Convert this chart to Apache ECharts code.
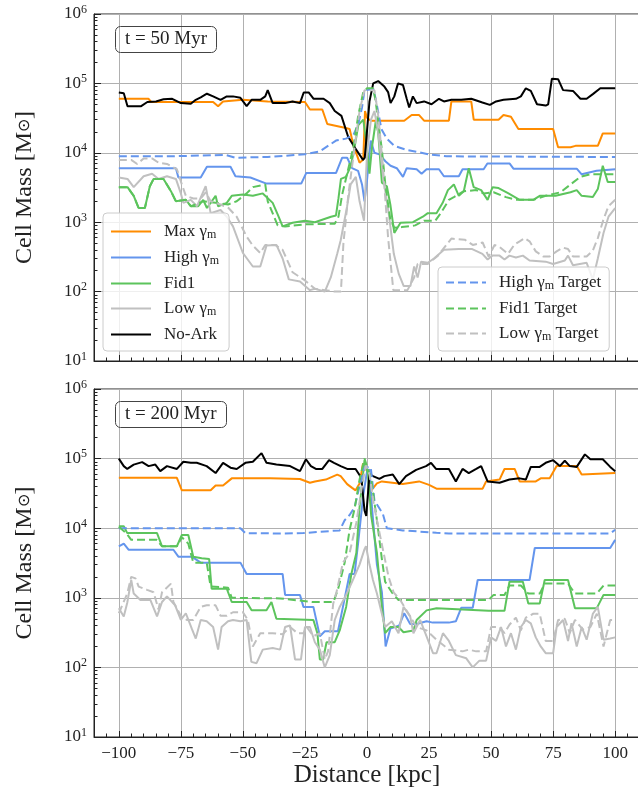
<!DOCTYPE html>
<html>
<head>
<meta charset="utf-8">
<script src="https://cdn.jsdelivr.net/npm/echarts@6/dist/echarts.min.js"></script>
<style>
  html, body { margin: 0; padding: 0; background: #fff; }
  #chart { width: 638px; height: 794px; }
</style>
</head>
<body>
<div id="chart"></div>
<script>
// x in kpc, y = cell mass in Msun
// --- t = 50 Myr ---
const maxTop = [[-100,6.0e4],[-88,6.0e4],[-87,5.4e4],[-62,5.4e4],[-60,4.7e4],[-58,5.5e4],[-50,5.8e4],[-40,5.5e4],[-25,5.4e4],[-23,4.2e4],[-18,4.2e4],[-16,2.6e4],[-9,2.3e4],[-7,2.2e4],[-5.5,1.3e4],[-3,7.2e3],[-1.5,8.0e3],[-0.8,4.0e4],[0,3.2e4],[1.5,2.9e4],[15,2.9e4],[18,3.5e4],[21,3.5e4],[23,2.9e4],[33,2.9e4],[34,5.5e4],[42,5.5e4],[43,3.0e4],[53,3.0e4],[55,3.5e4],[58,3.3e4],[61,2.2e4],[75,2.2e4],[77,1.2e4],[82,1.2e4],[84,1.26e4],[93,1.26e4],[95,1.9e4],[100,1.9e4]];
const highTop = [[-100,6.0e3],[-77,6.0e3],[-76,4.4e3],[-67,4.4e3],[-64.5,6.3e3],[-55,6.3e3],[-53,4.6e3],[-47,4.4e3],[-40.5,3.6e3],[-26.5,3.6e3],[-24.5,5.1e3],[-12.5,5.1e3],[-10,8.5e3],[-8,8.5e3],[-6,6.0e3],[-3.6,5.5e3],[-2,3.5e3],[-1,2.0e3],[0,4.0e3],[1.5,1.5e4],[3,1.0e4],[5,9.5e3],[7.5,7.5e3],[9.5,6.5e3],[12,6.0e3],[14.5,4.5e3],[16,6.0e3],[20,5.8e3],[22,5.0e3],[24,5.8e3],[29,5.8e3],[31,4.6e3],[37,4.6e3],[38.5,5.8e3],[47,5.8e3],[48.5,7.0e3],[57.5,7.0e3],[59,5.9e3],[84.5,5.9e3],[86.5,4.9e3],[92.5,5.5e3],[100,5.8e3]];
const fidTop = [[-100,3.2e3],[-96.5,3.2e3],[-94,2.4e3],[-92,1.6e3],[-89.5,1.6e3],[-87.5,3.3e3],[-86,4.2e3],[-82,4.2e3],[-79,2.8e3],[-77,2.0e3],[-73,2.1e3],[-71,1.7e3],[-68,1.7e3],[-66,2.1e3],[-64.5,1.6e3],[-61,2.4e3],[-60,1.7e3],[-56.5,1.9e3],[-54.5,2.4e3],[-50,2.5e3],[-46,2.4e3],[-42,2.6e3],[-38,1.9e3],[-36,1.3e3],[-34,8.7e2],[-30,9.8e2],[-25,1.05e3],[-21,1.0e3],[-14.5,1.2e3],[-12.5,1.25e3],[-11.5,2.2e3],[-10.5,4.2e3],[-8.5,4.5e3],[-6.5,6.5e3],[-5,1.2e4],[-3.5,2.5e4],[-1.5,3.0e4],[0,1.2e4],[1,5.0e3],[2,1.2e4],[3.5,2.8e4],[4.5,2.0e4],[6,3.7e3],[8,3.3e3],[9.4,1.8e3],[11,7.0e2],[13.5,9.8e2],[18.5,1.0e3],[22.5,1.2e3],[24.5,1.35e3],[28,1.35e3],[30.5,1.9e3],[32.6,2.9e3],[35,3.5e3],[37,2.4e3],[39,2.8e3],[41,6.0e3],[43,3.2e3],[46,2.9e3],[48.6,2.1e3],[50.6,3.2e3],[53,3.1e3],[57,2.6e3],[61.5,2.1e3],[67,2.1e3],[69.6,2.4e3],[76,2.4e3],[82,2.7e3],[84.5,2.9e3],[86.5,2.4e3],[91,2.3e3],[93,3.0e3],[95,6.5e3],[97,3.8e3],[100,3.8e3]];
const lowTop = [[-100,4.4e3],[-96.5,4.2e3],[-94,3.2e3],[-90,4.6e3],[-86.6,5.0e3],[-84,4.2e3],[-80.6,4.6e3],[-77,4.2e3],[-75,2.6e3],[-74,1.9e3],[-71,2.1e3],[-68.5,1.7e3],[-65,3.3e3],[-63,1.35e3],[-59,1.5e3],[-56.5,1.2e3],[-54,8.7e2],[-50,3.6e2],[-46,2.3e2],[-43,2.3e2],[-40.5,4.6e2],[-36.5,4.7e2],[-34,3.0e2],[-31.5,1.5e2],[-27,1.4e2],[-23,1.05e2],[-21,1.1e2],[-17,1.0e2],[-14.6,1.6e2],[-12,3.5e2],[-10.6,5.5e2],[-8,1.7e3],[-6.6,3.5e3],[-4.5,4.5e3],[-3,2.0e3],[-1.2,1.05e3],[0,1.0e4],[1.6,3.0e4],[3,4.0e4],[4.5,2.0e4],[6.5,4.5e3],[8.8,1.3e3],[10.8,3.5e2],[12.8,1.8e2],[14.8,1.2e2],[17.5,1.2e2],[19,2.3e2],[20.4,1.6e2],[21.8,2.7e2],[24.5,2.6e2],[27,3.0e2],[31,4.0e2],[37,4.1e2],[42.4,4.1e2],[46.5,3.5e2],[48.6,2.9e2],[50.5,3.3e2],[53.4,3.3e2],[55.4,2.9e2],[57.4,3.3e2],[60,3.1e2],[62.8,3.3e2],[65.5,2.8e2],[72,2.7e2],[75,2.5e2],[79.7,2.8e2],[81,3.3e2],[83,2.4e2],[88.5,2.6e2],[91,1.5e2],[93,3.0e2],[95.3,7.0e2],[97.3,1.2e3],[100,1.6e3]];
const noArkTop = [[-100,7.4e4],[-98,7.2e4],[-96.5,4.7e4],[-91,4.7e4],[-88.5,5.4e4],[-85,5.5e4],[-82,5.9e4],[-78.5,6.0e4],[-75,5.2e4],[-71,5.1e4],[-69,5.8e4],[-67,6.3e4],[-64.5,7.1e4],[-62,6.5e4],[-59,5.8e4],[-56.5,6.5e4],[-54,6.5e4],[-51,6.2e4],[-48.5,4.7e4],[-46.5,5.8e4],[-43,5.8e4],[-41,6.5e4],[-40,8.0e4],[-38,5.2e4],[-33,5.2e4],[-30,5.5e4],[-27,5.2e4],[-25.5,7.4e4],[-23.5,7.4e4],[-21.5,6.0e4],[-17.5,6.0e4],[-15,5.2e4],[-13,4.0e4],[-10.3,3.4e4],[-7.6,1.7e4],[-5,1.2e4],[-1.6,7.9e3],[-0.9,8.5e3],[1,5.5e4],[2.5,1.0e5],[4.5,1.08e5],[7,9.0e4],[8.5,7.5e4],[9.5,5.2e4],[11,6.5e4],[12.5,1.0e5],[14.5,9.5e4],[16,6.0e4],[17,4.5e4],[18.5,6.5e4],[20,5.2e4],[23,5.5e4],[26,5.0e4],[29,6.0e4],[31,5.5e4],[34,5.8e4],[38,5.8e4],[42,6.0e4],[46.5,5.3e4],[49.5,4.9e4],[52,5.5e4],[55,5.8e4],[60,6.0e4],[62,6.5e4],[64,8.5e4],[66,7.8e4],[68.5,5.0e4],[72,4.8e4],[73,5.0e4],[74.5,1.17e5],[77,1.15e5],[79,8.0e4],[83,7.8e4],[86,6.0e4],[88.5,6.0e4],[91,7.0e4],[94,8.5e4],[100,8.5e4]];
const highTgtTop = [[-100,8.9e3],[-80,8.9e3],[-57,9.3e3],[-53,8.5e3],[-40,8.7e3],[-25,9.5e3],[-19,1.05e4],[-12.5,1.5e4],[-8.5,1.6e4],[-5.5,1.8e4],[-3.5,2.6e4],[-2,4.5e4],[-1,8.0e4],[2.5,8.3e4],[3.5,6.0e4],[5.8,2.2e4],[8,1.6e4],[11,1.26e4],[16,1.1e4],[25,9.5e3],[32,8.9e3],[100,8.7e3]];
const fidTgtTop = [[-100,3.2e3],[-96.5,3.2e3],[-94,2.4e3],[-92,1.6e3],[-89.5,1.6e3],[-87.5,3.3e3],[-86,4.2e3],[-82,4.2e3],[-79,2.8e3],[-77,2.0e3],[-73,2.1e3],[-71,1.7e3],[-66,2.0e3],[-61,1.9e3],[-56,1.8e3],[-52.5,2.0e3],[-48.5,2.6e3],[-46,3.2e3],[-42.5,3.4e3],[-41,3.5e3],[-40,2.0e3],[-36,9.0e2],[-33,8.7e2],[-25,9.3e2],[-13,9.5e2],[-11.5,1.2e3],[-10,2.5e3],[-8,5.0e3],[-5.5,1.2e4],[-3.5,3.5e4],[-1.5,7.5e4],[0,8.5e4],[2.5,8.5e4],[3.5,5.5e4],[6,1.1e4],[7.5,3.2e3],[9.4,1.1e3],[11,8.3e2],[14,8.5e2],[19.4,9.0e2],[23,1.05e3],[27.5,1.05e3],[30,1.4e3],[33,2.1e3],[35,2.3e3],[39,2.8e3],[44,2.9e3],[47,2.6e3],[51,2.7e3],[56,2.3e3],[60,2.1e3],[67,2.1e3],[72,2.4e3],[78,2.7e3],[82,3.5e3],[86,4.5e3],[90,4.9e3],[100,4.9e3]];
const lowTgtTop = [[-100,7.9e3],[-95,7.9e3],[-92.6,6.9e3],[-90,8.3e3],[-86.6,8.3e3],[-84,7.2e3],[-80.6,6.9e3],[-76.6,5.8e3],[-74.6,3.5e3],[-73,2.4e3],[-70,2.2e3],[-67,2.2e3],[-65,2.7e3],[-63,2.0e3],[-59,1.8e3],[-55.8,1.6e3],[-52.5,1.2e3],[-48.5,6.2e2],[-46,4.6e2],[-43,3.6e2],[-41,4.7e2],[-37,4.7e2],[-34,4.0e2],[-30,1.9e2],[-25,1.45e2],[-21,1.1e2],[-17,1.05e2],[-13,1.0e2],[-10.5,1.0e2],[-9.5,5.0e2],[-7.5,2.5e3],[-5,1.2e4],[-3,4.0e4],[-1,8.0e4],[3,8.0e4],[4.5,3.5e4],[6.5,6.0e3],[8.5,6.0e2],[10.6,1.05e2],[16.3,1.05e2],[19,1.6e2],[20.4,2.5e2],[24.5,2.5e2],[28.6,3.3e2],[34,5.8e2],[39.4,5.6e2],[42.6,4.7e2],[46.6,5.1e2],[49,3.2e2],[51.4,4.7e2],[53.4,4.4e2],[56.8,3.5e2],[59.5,4.8e2],[61.5,5.3e2],[63.5,5.9e2],[65.5,5.3e2],[68,3.8e2],[71,3.2e2],[73.6,3.2e2],[76.4,3.8e2],[79,4.3e2],[81,4.1e2],[83,3.2e2],[88.5,3.2e2],[91,3.9e2],[93,5.9e2],[95.3,1.1e3],[97.3,1.7e3],[100,2.1e3]];

// --- t = 200 Myr ---
const maxBot = [[-100,5.3e4],[-76.6,5.3e4],[-74.6,3.5e4],[-63,3.5e4],[-61,4.1e4],[-58,4.1e4],[-54.5,5.2e4],[-39,5.2e4],[-27,5.1e4],[-23,4.5e4],[-21,4.7e4],[-16.6,5.0e4],[-12,5.9e4],[-10.6,5.6e4],[-8,4.3e4],[-6,3.8e4],[-4.6,3.5e4],[-3,4.4e4],[-1.6,8.5e4],[-1,9.0e4],[0.4,6.2e4],[1.7,3.5e4],[4,4.4e4],[6,4.7e4],[14.4,4.3e4],[21,4.7e4],[25,4.2e4],[28,3.7e4],[46.6,3.7e4],[48,4.7e4],[53.4,5.0e4],[55.4,7.1e4],[59.5,7.1e4],[61.5,4.7e4],[68,4.7e4],[70,5.2e4],[73.6,5.2e4],[76.4,7.8e4],[84.5,7.8e4],[86.5,5.9e4],[100,6.2e4]];
const highBot = [[-100,5.5e3],[-98,6.0e3],[-96,4.9e3],[-78,4.9e3],[-76,3.9e3],[-70.6,3.9e3],[-67,3.2e3],[-51,3.2e3],[-48.5,2.2e3],[-34,2.2e3],[-33,1.1e3],[-27,1.1e3],[-25.6,7.4e2],[-21.6,7.4e2],[-19,2.8e2],[-17,3.3e2],[-11.7,3.3e2],[-9.7,7.4e2],[-7,2.2e3],[-5,2.2e3],[-3.6,6.0e3],[-1.5,3.0e4],[0,6.5e4],[1,7.0e4],[2,2.0e4],[4,3.0e3],[6,1.2e3],[7.5,2.0e2],[9.4,3.6e2],[13,4.0e2],[15,6.0e2],[17.4,4.2e2],[20,4.2e2],[24,4.6e2],[26.5,4.4e2],[33,4.4e2],[35.8,4.6e2],[38,7.2e2],[42.6,7.2e2],[44.6,1.8e3],[65.5,1.8e3],[67.6,5.2e3],[98,5.2e3],[100,6.8e3]];
const fidBot = [[-100,1.07e4],[-98,1.07e4],[-96.6,8.5e3],[-84.6,8.5e3],[-82.6,5.5e3],[-76.6,5.5e3],[-74.6,8.0e3],[-72,8.0e3],[-70,3.9e3],[-66.6,3.7e3],[-63.6,3.6e3],[-62.6,1.35e3],[-56.5,1.35e3],[-54.5,8.7e2],[-48.5,8.7e2],[-46.5,6.6e2],[-40.5,6.6e2],[-38.5,8.7e2],[-36.5,5.0e2],[-21.6,4.8e2],[-20,3.1e2],[-19,1.3e2],[-17.7,1.3e2],[-16.3,2.3e2],[-13,2.3e2],[-11,3.4e2],[-8.4,7.4e2],[-6.3,2.2e3],[-4.3,4.4e3],[-3,2.0e4],[-1,9.5e4],[0.4,6.0e4],[1.7,1.5e4],[4,4.4e3],[6,7.4e2],[7.3,3.1e2],[9.4,3.8e2],[12.7,3.8e2],[14.7,3.2e2],[18.7,3.4e2],[20,4.8e2],[24,6.6e2],[28,7.1e2],[49,6.5e2],[55.4,6.5e2],[57.4,1.7e3],[62.8,1.7e3],[65,8.3e2],[69.6,8.3e2],[71.6,1.8e3],[81,1.8e3],[83.8,7.1e2],[92.6,7.1e2],[95.3,1.1e3],[100,1.1e3]];
const lowBot = [[-100,7.1e2],[-98,5.4e2],[-96.6,8.5e2],[-95,1.8e3],[-94,1.15e3],[-91.3,9.3e2],[-87.3,9.3e2],[-84.6,5.4e2],[-82.6,8.7e2],[-80.6,1.05e3],[-77.3,7.8e2],[-75,4.8e2],[-73,6.0e2],[-70.6,3.6e2],[-69,2.6e2],[-67,4.8e2],[-64.6,4.6e2],[-62,3.8e2],[-60,1.8e2],[-58.6,3.8e2],[-56,4.6e2],[-54,4.8e2],[-51,4.6e2],[-48.5,4.8e2],[-46.6,1.2e2],[-44.5,1.15e2],[-42,1.8e2],[-38,1.9e2],[-35,1.8e2],[-33,3.8e2],[-31,4.0e2],[-29,1.3e2],[-26.6,1.3e2],[-25,3.8e2],[-23,3.8e2],[-21,2.3e2],[-19,1.8e2],[-17,1.0e2],[-15,1.5e2],[-13,4.8e2],[-11,7.4e2],[-8.4,1.1e3],[-5.7,1.8e3],[-3,3.0e3],[-1,5.0e3],[-0.4,5.5e3],[1,3.0e3],[2.4,1.8e3],[4,1.15e3],[7.3,3.8e2],[10,4.6e2],[12.7,3.1e2],[14.7,7.4e2],[17.4,5.4e2],[18.7,3.1e2],[21.4,4.8e2],[24,2.8e2],[26.6,1.6e2],[28,1.6e2],[30.6,3.1e2],[33,2.4e2],[35.8,1.5e2],[40,1.35e2],[42.6,1.0e2],[45.3,1.25e2],[48,1.25e2],[50,2.7e2],[52,2.4e2],[54,3.8e2],[56,2.0e2],[58,3.1e2],[60,1.8e2],[62,3.8e2],[64,4.8e2],[66,4.3e2],[68,2.7e2],[70,2.0e2],[72,1.6e2],[75,1.6e2],[76.4,3.8e2],[79,4.8e2],[81,2.4e2],[82.4,4.3e2],[84.5,2.0e2],[86.5,3.8e2],[88.5,2.5e2],[91,5.9e2],[93,7.4e2],[95.3,2.5e2],[98,2.6e2],[100,2.7e2]];
const noArkBot = [[-100,1.0e5],[-98,7.8e4],[-96.6,7.1e4],[-94,8.2e4],[-90.6,8.9e4],[-88,7.8e4],[-85.3,8.2e4],[-83.3,6.6e4],[-80.6,7.8e4],[-76.6,7.1e4],[-74,9.0e4],[-71,8.7e4],[-68.6,8.7e4],[-64.6,7.8e4],[-61,6.2e4],[-58,8.7e4],[-55,7.4e4],[-52.5,7.1e4],[-49,8.7e4],[-46,9.0e4],[-42.5,1.2e5],[-40.5,8.7e4],[-36.5,8.2e4],[-31,7.8e4],[-27,6.6e4],[-24.6,9.8e4],[-22.6,7.8e4],[-20.6,7.1e4],[-18,7.1e4],[-15.3,9.5e4],[-13.3,8.7e4],[-10.6,7.8e4],[-8,7.1e4],[-4.6,7.1e4],[-2.3,5.3e4],[-1,1.8e4],[-0.3,1.5e4],[1,6.0e4],[2.4,5.6e4],[5,5.1e4],[7,5.6e4],[10.4,5.9e4],[13,4.3e4],[15.7,5.6e4],[19.8,6.9e4],[23.8,7.8e4],[25.8,8.7e4],[27.8,7.1e4],[33,7.1e4],[35.8,4.7e4],[38.5,7.1e4],[41,6.2e4],[44,7.1e4],[46,7.8e4],[48,5.3e4],[48.6,4.7e4],[53.4,4.5e4],[57.4,5.0e4],[61.5,5.2e4],[64,5.0e4],[66,7.6e4],[69.6,7.6e4],[72,8.7e4],[75,9.5e4],[77.7,7.8e4],[79.7,9.3e4],[81.7,7.8e4],[84.5,7.6e4],[87.8,1.15e5],[90,9.8e4],[95,9.8e4],[98,7.6e4],[100,6.6e4]];
const highTgtBot = [[-100,1.0e4],[-51,1.0e4],[-49,8.5e3],[-35,8.4e3],[-25.6,8.5e3],[-19,8.9e3],[-11,9.3e3],[-9,1.3e4],[-7,1.55e4],[-5,2.0e4],[-3,4.0e4],[-1,7.5e4],[1.5,7.5e4],[3,2.5e4],[6.4,1.6e4],[8,1.0e4],[14.4,9.3e3],[28,8.6e3],[33,8.4e3],[98,8.4e3],[100,9.5e3]];
const fidTgtBot = [[-100,1.05e4],[-97,8.5e3],[-95,6.8e3],[-84.6,6.8e3],[-82.6,5.5e3],[-76.6,5.5e3],[-74.6,7.4e3],[-72,6.0e3],[-70,3.2e3],[-64.6,3.2e3],[-63,1.45e3],[-56,1.4e3],[-54.5,1.0e3],[-35,9.8e2],[-22,8.7e2],[-13.5,8.7e2],[-11.5,1.4e3],[-9,3.2e3],[-7,9.5e3],[-5,1.9e4],[-3,5.0e4],[-1,1.0e5],[1.7,5.0e4],[4,1.3e4],[6,3.6e3],[7.3,1.7e3],[10,1.2e3],[12.7,9.3e2],[49,9.3e2],[51,1.1e3],[55.4,1.1e3],[57.4,1.5e3],[62,1.5e3],[65,1.15e3],[69.6,1.15e3],[71.6,1.6e3],[81,1.6e3],[83.8,1.15e3],[92.6,1.15e3],[95.3,1.5e3],[100,1.5e3]];
const lowTgtBot = [[-100,6.0e2],[-96.6,1.15e3],[-95,2.0e3],[-93.3,1.9e3],[-92,1.45e3],[-88.6,1.3e3],[-86,1.2e3],[-84,6.8e2],[-82.6,1.2e3],[-79,1.6e3],[-78,8.7e2],[-75,5.5e2],[-72.6,4.8e2],[-70,4.8e2],[-67,7.4e2],[-64.6,7.8e2],[-61,7.8e2],[-59,5.5e2],[-56.5,5.5e2],[-54,6.2e2],[-50,6.2e2],[-48,4.8e2],[-46,2.0e2],[-43,3.1e2],[-38,3.1e2],[-34,3.0e2],[-31,3.8e2],[-28,3.1e2],[-25.6,3.1e2],[-24.3,3.8e2],[-21.6,2.8e2],[-19,3.1e2],[-17,1.3e2],[-15.7,1.7e2],[-13.6,8.3e2],[-12.3,1.2e3],[-9.7,3.2e3],[-7,4.4e3],[-4.3,1.2e4],[-2,4.0e4],[-0.5,8.0e4],[1,6.0e4],[2.5,2.5e4],[4,1.3e4],[6.7,4.4e3],[8.7,2.0e3],[10.7,1.2e3],[13.4,9.3e2],[16,6.5e2],[20,3.8e2],[24,3.4e2],[28,2.5e2],[33,1.8e2],[38.5,1.7e2],[41,1.8e2],[44,1.7e2],[48,1.7e2],[50,3.8e2],[53.4,3.8e2],[55.4,3.1e2],[57.4,4.1e2],[60,5.2e2],[62,3.4e2],[64,5.2e2],[67,5.9e2],[69.6,5.9e2],[72,2.4e2],[75,2.4e2],[77,4.8e2],[79.7,5.0e2],[81.7,3.1e2],[83.8,4.8e2],[87,3.5e2],[90,3.8e2],[92.6,5.9e2],[95.3,2.0e2],[98,4.8e2],[100,4.8e2]];

const xMajor = [-100, -75, -50, -25, 0, 25, 50, 75, 100];

// minor tick positions (every 5 kpc; log-spaced 2..9 on y)
const xMinor = [];
for (let v = -110; v <= 110; v += 5) xMinor.push(v);
const yMinorLog = [];
for (let e = 1; e < 6; e++) for (let k = 2; k <= 9; k++) yMinorLog.push(e + Math.log10(k));

const FONT = 'Liberation Serif';
const INK = '#222';

const chart = echarts.init(document.getElementById('chart'));

function xAxes(grid, showLabel) {
  return [
    {
      type: 'value', gridIndex: grid, min: -110, max: 110, position: 'bottom',
      name: showLabel ? 'Distance [kpc]' : '',
      nameLocation: 'middle', nameGap: 24,
      nameTextStyle: { fontFamily: FONT, fontSize: 25, color: INK },
      axisLine: { onZero: false, lineStyle: { color: INK, width: 1 } },
      axisTick: { inside: true, length: 6, customValues: xMajor, lineStyle: { color: INK } },
      axisLabel: {
        show: showLabel, customValues: xMajor, margin: 8,
        fontFamily: FONT, fontSize: 17, color: INK,
        formatter: v => (v < 0 ? '\u2212' + Math.abs(v) : '' + v)
      },
      splitLine: { show: true, lineStyle: { color: '#b0b0b0', width: 1 } }
    },
    {
      type: 'value', gridIndex: grid, min: -110, max: 110, position: 'bottom',
      axisLine: { show: false, onZero: false },
      axisTick: { inside: true, length: 3.5, customValues: xMinor, lineStyle: { color: INK } },
      axisLabel: { show: false },
      splitLine: { show: false }
    }
  ];
}

function yAxes(grid) {
  return [
    {
      type: 'log', logBase: 10, gridIndex: grid, min: 10, max: 1e6, position: 'left',
      name: 'Cell Mass [M{sub|\u2299}]',
      nameLocation: 'middle', nameGap: 57, nameRotate: 90,
      nameTextStyle: {
        fontFamily: FONT, fontSize: 24, color: INK,
        rich: { sub: { fontFamily: FONT, fontSize: 16, color: INK } }
      },
      axisLine: { show: true, onZero: false, lineStyle: { color: INK, width: 1 } },
      axisTick: { inside: true, length: 7, lineStyle: { color: INK } },
      axisLabel: {
        margin: 7, fontFamily: FONT, fontSize: 17, color: INK,
        formatter: v => '10{sup|' + Math.round(Math.log10(v)) + '}',
        rich: { sup: { fontFamily: FONT, fontSize: 12, color: INK, padding: [0, 0, 9, 0] } }
      },
      splitLine: { show: true, lineStyle: { color: '#b0b0b0', width: 1 } }
    },
    {
      type: 'value', gridIndex: grid, min: 1, max: 6, position: 'left',
      axisLine: { show: false, onZero: false },
      axisTick: { inside: true, length: 3.5, customValues: yMinorLog, lineStyle: { color: INK } },
      axisLabel: { show: false },
      splitLine: { show: false }
    }
  ];
}

const styles = {
  'Max \u03b3m': { color: '#ff8c00', dashed: false },
  'High \u03b3m': { color: '#6495ed', dashed: false },
  'Fid1': { color: '#5cc45c', dashed: false },
  'Low \u03b3m': { color: '#c0c0c0', dashed: false },
  'No-Ark': { color: '#000000', dashed: false },
  'High \u03b3m Target': { color: '#6495ed', dashed: true },
  'Fid1 Target': { color: '#5cc45c', dashed: true },
  'Low \u03b3m Target': { color: '#c0c0c0', dashed: true }
};

function line(name, data, axisIdx) {
  const st = styles[name];
  return {
    name: name, type: 'line', data: data,
    xAxisIndex: axisIdx, yAxisIndex: axisIdx,
    symbol: 'circle', showSymbol: false, animation: false,
    lineStyle: { color: st.color, width: 2, type: st.dashed ? [8, 4] : 'solid' },
    itemStyle: { color: st.color }
  };
}

const topSets = [
  ['Max \u03b3m', maxTop], ['High \u03b3m', highTop], ['Fid1', fidTop], ['Low \u03b3m', lowTop],
  ['No-Ark', noArkTop], ['High \u03b3m Target', highTgtTop], ['Fid1 Target', fidTgtTop], ['Low \u03b3m Target', lowTgtTop]
];
const botSets = [
  ['Max \u03b3m', maxBot], ['High \u03b3m', highBot], ['Fid1', fidBot], ['Low \u03b3m', lowBot],
  ['No-Ark', noArkBot], ['High \u03b3m Target', highTgtBot], ['Fid1 Target', fidTgtBot], ['Low \u03b3m Target', lowTgtBot]
];

const series = [];
topSets.forEach(s => series.push(line(s[0], s[1], 0)));
botSets.forEach(s => series.push(line(s[0], s[1], 2)));

const legendText = {
  fontFamily: FONT, fontSize: 17, color: INK, padding: [0, 0, 0, 8],
  rich: { sub: { fontFamily: FONT, fontSize: 12, color: INK, padding: [7, 0, 0, 0] } }
};
const legendBase = {
  orient: 'vertical', itemWidth: 40, itemHeight: 12, itemGap: 8,
  backgroundColor: 'rgba(255,255,255,0.8)', borderColor: '#cccccc', borderWidth: 1, borderRadius: 4,
  selectedMode: false, textStyle: legendText,
  itemStyle: { opacity: 0, borderWidth: 0 },
  formatter: n => n.replace('\u03b3m', '\u03b3{sub|m}')
};

const boxStyle = {
  borderColor: '#444', borderWidth: 1, borderRadius: 5, padding: [4, 10, 4, 10],
  textStyle: { fontFamily: FONT, fontSize: 19, fontWeight: 'normal', color: INK }
};

const option = {
  backgroundColor: '#fff',
  animation: false,
  title: [
    Object.assign({ text: 't = 50 Myr', left: 115, top: 26 }, boxStyle),
    Object.assign({ text: 't = 200 Myr', left: 115, top: 401 }, boxStyle)
  ],
  grid: [
    { left: 94, width: 546, top: 14, height: 347, outerBoundsMode: 'none', show: true, borderColor: INK, borderWidth: 1 },
    { left: 94, width: 546, top: 389, height: 348, outerBoundsMode: 'none', show: true, borderColor: INK, borderWidth: 1 }
  ],
  legend: [
    Object.assign({ left: 103, top: 213, padding: [10, 10, 8, 7],
      data: ['Max \u03b3m', 'High \u03b3m', 'Fid1', 'Low \u03b3m', 'No-Ark'] }, legendBase),
    Object.assign({ left: 438, top: 267, padding: [7, 8, 8, 7],
      data: ['High \u03b3m Target', 'Fid1 Target', 'Low \u03b3m Target'] }, legendBase)
  ],
  xAxis: xAxes(0, false).concat(xAxes(1, true)),
  yAxis: yAxes(0).concat(yAxes(1)),
  series: series
};

chart.setOption(option);
window.onresize = chart.resize;
</script>
</body>
</html>
